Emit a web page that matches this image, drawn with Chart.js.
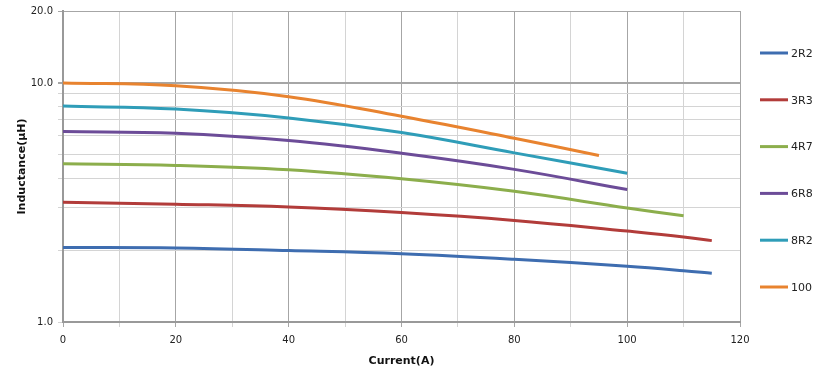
<!DOCTYPE html>
<html>
<head>
<meta charset="utf-8">
<script src="https://cdn.jsdelivr.net/npm/chart.js@4/dist/chart.umd.min.js"></script>
<style>
  html, body { margin: 0; padding: 0; background: #fff; }
  #wrap { width: 820px; height: 379px; }
</style>
</head>
<body>
<div id="wrap"><canvas id="inductance"></canvas></div>
<script>
  // values (current in A, inductance in uH)
  var current_2r2 = [0, 20, 40, 60, 80, 100, 110, 115];
  var values_2r2  = [2.05, 2.04, 1.99, 1.93, 1.83, 1.71, 1.64, 1.60];
  var current_3r3 = [0, 20, 40, 60, 80, 100, 110, 115];
  var values_3r3  = [3.17, 3.11, 3.03, 2.87, 2.66, 2.40, 2.27, 2.19];
  var current_4r7 = [0, 20, 40, 60, 80, 100, 110];
  var values_4r7  = [4.59, 4.52, 4.33, 3.97, 3.52, 3.00, 2.78];
  var current_6r8 = [0, 20, 40, 60, 80, 100];
  var values_6r8  = [6.26, 6.16, 5.74, 5.08, 4.35, 3.58];
  var current_8r2 = [0, 20, 40, 60, 80, 100];
  var values_8r2  = [8.0, 7.78, 7.14, 6.20, 5.10, 4.19];
  var current_100 = [0, 20, 40, 60, 80, 95];
  var values_100  = [10.0, 9.73, 8.76, 7.25, 5.87, 4.97];

  var series_names = ['2R2', '3R3', '4R7', '6R8', '8R2', '100'];
  var series_colors = ['#3e6db0', '#b23c3a', '#8cae4c', '#6c4c98', '#2f9db8', '#e8832f'];

  var y_tick_values = [1, 2, 3, 4, 5, 6, 7, 8, 9, 10, 20];
  var y_tick_labels = { 1: '1.0', 10: '10.0', 20: '20.0' };

  function to_points(xs, ys) {
    var pts = [];
    for (var i = 0; i < xs.length; i++) {
      pts.push({ x: xs[i], y: ys[i] });
    }
    return pts;
  }

  var all_x = [current_2r2, current_3r3, current_4r7, current_6r8, current_8r2, current_100];
  var all_y = [values_2r2, values_3r3, values_4r7, values_6r8, values_8r2, values_100];

  var datasets = [];
  for (var i = 0; i < series_names.length; i++) {
    datasets.push({
      label: series_names[i],
      data: to_points(all_x[i], all_y[i]),
      borderColor: series_colors[i],
      backgroundColor: series_colors[i],
      borderWidth: 3,
      pointRadius: 0,
      fill: false,
      tension: 0.4
    });
  }

  var tick_font = { family: 'DejaVu Sans', size: 10 };
  var title_font = { family: 'DejaVu Sans', size: 11, weight: 'bold' };

  // legend on the right, drawn by hand so the spacing matches
  var side_legend = {
    id: 'side_legend',
    afterDraw: function (chart) {
      var c = chart.ctx;
      var ds = chart.data.datasets;
      c.save();
      c.font = '11px "DejaVu Sans"';
      c.textBaseline = 'middle';
      c.textAlign = 'left';
      for (var i = 0; i < ds.length; i++) {
        var y = 53 + i * 46.8;
        c.strokeStyle = ds[i].borderColor;
        c.lineWidth = 3;
        c.beginPath();
        c.moveTo(760, y);
        c.lineTo(788, y);
        c.stroke();
        c.fillStyle = '#222';
        c.fillText(ds[i].label, 791, y + 1);
      }
      c.restore();
    }
  };

  var ctx = document.getElementById('inductance');
  var chart = new Chart(ctx, {
    type: 'line',
    data: { datasets: datasets },
    options: {
      responsive: true,
      maintainAspectRatio: false,
      animation: false,
      layout: { padding: { top: 10, right: 80, left: 12, bottom: 7 } },
      plugins: {
        tooltip: { enabled: false },
        legend: { display: false }
      },
      scales: {
        x: {
          type: 'linear',
          min: 0,
          max: 120,
          afterFit: function (axis) { axis.height = 50; },
          ticks: {
            stepSize: 10,
            color: '#222',
            font: tick_font,
            padding: 7,
            maxRotation: 0,
            callback: function (v) { return v % 20 === 0 ? v : ''; }
          },
          grid: {
            color: function (c) { return c.tick && c.tick.value % 20 === 0 ? '#a6a6a6' : '#d4d4d4'; },
            lineWidth: 1,
            tickLength: 5
          },
          border: { color: '#999', width: 2 },
          title: { display: true, text: 'Current(A)', color: '#111', font: title_font, padding: { top: 8 } }
        },
        y: {
          type: 'logarithmic',
          min: 1,
          max: 20,
          afterFit: function (axis) { axis.width = 51; },
          afterBuildTicks: function (axis) {
            axis.ticks = y_tick_values.map(function (v) { return { value: v }; });
          },
          ticks: {
            color: '#222',
            font: tick_font,
            padding: 5,
            autoSkip: false,
            callback: function (v) { return y_tick_labels[v] || ''; }
          },
          grid: {
            color: function (c) { return c.tick && (c.tick.value === 10 || c.tick.value === 20) ? '#a6a6a6' : '#d4d4d4'; },
            lineWidth: function (c) { return c.tick && c.tick.value === 10 ? 2 : 1; },
            tickLength: 5
          },
          border: { color: '#999', width: 2 },
          title: { display: true, text: 'Inductance(μH)', color: '#111', font: title_font, padding: { bottom: 2 } }
        }
      }
    },
    plugins: [side_legend]
  });
</script>
</body>
</html>
